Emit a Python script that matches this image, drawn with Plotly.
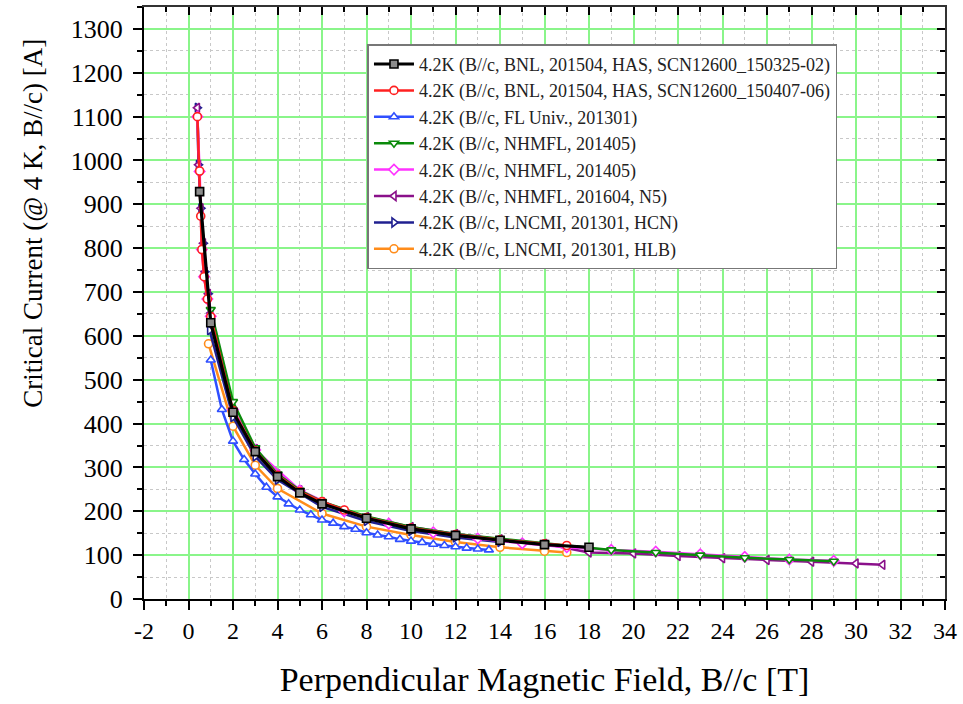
import plotly.graph_objects as go

# ---------------- data ----------------
names = [
    "4.2K (B//c, BNL, 201504, HAS, SCN12600_150325-02)",
    "4.2K (B//c, BNL, 201504, HAS, SCN12600_150407-06)",
    "4.2K (B//c, FL Univ., 201301)",
    "4.2K (B//c, NHMFL, 201405)",
    "4.2K (B//c, NHMFL, 201405)",
    "4.2K (B//c, NHMFL, 201604, N5)",
    "4.2K (B//c, LNCMI, 201301, HCN)",
    "4.2K (B//c, LNCMI, 201301, HLB)",
]

bnl1_x = [0.5, 1, 2, 3, 4, 5, 6, 8, 10, 12, 14, 16, 18]
bnl1_y = [929, 630, 426, 336, 279, 242, 217, 184, 160, 145, 134, 124, 118]

bnl2_x = [0.4, 0.5, 0.55, 0.6, 0.7, 0.85, 1, 2, 3, 4, 5, 6, 7, 8, 10, 12, 14, 16, 17]
bnl2_y = [1100, 976, 873, 797, 735, 684, 644, 430, 338, 282, 245, 222, 203, 186, 162, 147, 135, 126, 122]

fl_x = [1, 1.5, 2, 2.5, 3, 3.5, 4, 4.5, 5, 5.5, 6, 6.5, 7, 7.5, 8, 8.5, 9, 9.5,
        10, 10.5, 11, 11.5, 12, 12.5, 13, 13.5]
fl_y = [545, 432, 360, 318, 285, 255, 233, 217, 203, 192, 180, 173, 165, 159, 151, 146, 142, 136,
        132, 129, 125, 122, 119, 116, 114, 112]

nh1_x = [1, 2, 3, 4, 5, 6, 8, 10, 12, 14, 16, 19, 21, 23, 25, 27, 29]
nh1_y = [660, 450, 345, 285, 248, 222, 188, 164, 148, 137, 127, 112, 106, 100, 94, 90, 86]

nh2_x = [0.4, 0.5, 0.6, 0.7, 0.85, 1, 2, 3, 5, 7, 9, 11, 13, 15, 17, 19, 21, 23, 25, 27, 29]
nh2_y = [1100, 975, 797, 735, 684, 645, 432, 340, 248, 200, 172, 152, 138, 127, 118, 112, 108, 102, 96, 90, 87]

n5_x = [0.4, 0.45, 0.56, 0.67, 0.74, 0.89, 1, 2, 3, 4, 5, 6, 8, 10, 12, 14, 16, 18, 20, 22, 24, 26, 28, 30, 31.2]
n5_y = [1120, 990, 891, 811, 746, 696, 652, 432, 342, 284, 248, 221, 187, 164, 148, 136, 126, 106, 104, 98, 93, 89, 85, 81, 78]

hcn_x = [0.4, 0.45, 0.56, 0.67, 0.74, 0.89, 0.95, 2, 3, 4, 6, 8, 10, 12, 14]
hcn_y = [1120, 990, 891, 811, 746, 696, 613, 415, 325, 272, 210, 178, 155, 140, 130]

hlb_x = [0.9, 2, 3, 4, 6, 8, 10, 12, 14, 16, 17]
hlb_y = [582, 394, 305, 252, 195, 165, 146, 130, 118, 109, 106]

xs = [bnl1_x, bnl2_x, fl_x, nh1_x, nh2_x, n5_x, hcn_x, hlb_x]
ys = [bnl1_y, bnl2_y, fl_y, nh1_y, nh2_y, n5_y, hcn_y, hlb_y]

colors = ["#000000", "#ff2020", "#2f4fff", "#0a8a0a", "#ff33ff", "#8a108a", "#202090", "#ff8c1a"]
fills = ["#8c8c8c", "white", "white", "white", "white", "white", "white", "white"]
symbols = ["square", "circle", "triangle-up", "triangle-down", "diamond",
           "triangle-left", "triangle-right", "circle"]
lwidths = [3.2, 2.5, 2.5, 2.5, 2.5, 2.5, 2.5, 2.5]

x_ticks = list(range(-2, 35, 2))
y_ticks = list(range(0, 1301, 100))

x_title = "Perpendicular Magnetic Field, B//c [T]"
y_title = "Critical Current (@ 4 K, B//c) [A]"

FONT = "Liberation Serif, Times New Roman, serif"
GRID_MAJOR = "#8af58a"
GRID_MINOR = "#c8c8c8"

fig = go.Figure()

# draw in reverse so that the first series ends on top
for i in reversed(range(len(names))):
    fig.add_trace(go.Scatter(
        x=xs[i], y=ys[i], name=names[i], mode="lines+markers",
        legendrank=i + 1,
        line=dict(color=colors[i], width=lwidths[i]),
        marker=dict(symbol=symbols[i], size=8, color=fills[i],
                    line=dict(color=colors[i], width=1.6)),
    ))

# empty trace to activate the mirror axes (top / right, inward ticks)
fig.add_trace(go.Scatter(x=[], y=[], xaxis="x2", yaxis="y2", showlegend=False, hoverinfo="skip"))

fig.update_layout(
    width=963, height=704,
    margin=dict(l=144, r=18, t=7, b=105),
    paper_bgcolor="white", plot_bgcolor="white",
    font=dict(family=FONT, color="black"),
    showlegend=True,
    legend=dict(
        x=0.279, y=0.937, xanchor="left", yanchor="top",
        bgcolor="white", bordercolor="#777777", borderwidth=1.5,
        font=dict(family=FONT, size=18, color="#222222"),
        tracegroupgap=0, itemwidth=40,
    ),
    xaxis=dict(
        range=[-2, 34], tickvals=x_ticks, ticktext=[str(v) for v in x_ticks],
        showline=True, linecolor="black", linewidth=2,
        ticks="outside", ticklen=9, tickwidth=2, tickcolor="black",
        tickfont=dict(family=FONT, size=24),
        showgrid=True, gridcolor=GRID_MAJOR, gridwidth=2,
        zeroline=False,
        minor=dict(dtick=1, tick0=-2, ticks="outside", ticklen=5, tickwidth=2, tickcolor="black",
                   showgrid=True, gridcolor=GRID_MINOR, griddash="dot", gridwidth=1),
        title=dict(text=x_title, font=dict(family=FONT, size=34), standoff=24),
    ),
    yaxis=dict(
        range=[0, 1350], tickvals=y_ticks, ticktext=[str(v) for v in y_ticks],
        showline=True, linecolor="black", linewidth=2,
        ticks="outside", ticklen=9, tickwidth=2, tickcolor="black",
        tickfont=dict(family=FONT, size=26), ticklabelstandoff=5,
        showgrid=True, gridcolor=GRID_MAJOR, gridwidth=2,
        zeroline=False,
        minor=dict(dtick=50, tick0=0, ticks="outside", ticklen=5, tickwidth=2, tickcolor="black",
                   showgrid=True, gridcolor=GRID_MINOR, griddash="dot", gridwidth=1),
    ),
    xaxis2=dict(
        range=[-2, 34], overlaying="x", side="top", anchor="y2",
        showline=True, linecolor="#333333", linewidth=2,
        tickvals=x_ticks, showticklabels=False,
        ticks="inside", ticklen=8, tickwidth=2, tickcolor="black",
        showgrid=False, zeroline=False,
        minor=dict(dtick=1, tick0=-2, ticks="inside", ticklen=5, tickwidth=2, tickcolor="black", showgrid=False),
    ),
    yaxis2=dict(
        range=[0, 1350], overlaying="y", side="right", anchor="x2",
        showline=True, linecolor="#333333", linewidth=2,
        tickvals=y_ticks, showticklabels=False,
        ticks="inside", ticklen=8, tickwidth=2, tickcolor="black",
        showgrid=False, zeroline=False,
        minor=dict(dtick=50, tick0=0, ticks="inside", ticklen=5, tickwidth=2, tickcolor="black", showgrid=False),
    ),
    annotations=[dict(
        text=y_title, textangle=-90, showarrow=False,
        xref="paper", yref="paper", x=-0.139, y=0.635,
        xanchor="center", yanchor="middle",
        font=dict(family=FONT, size=27, color="black"),
    )],
)

fig.write_html("out.html")
